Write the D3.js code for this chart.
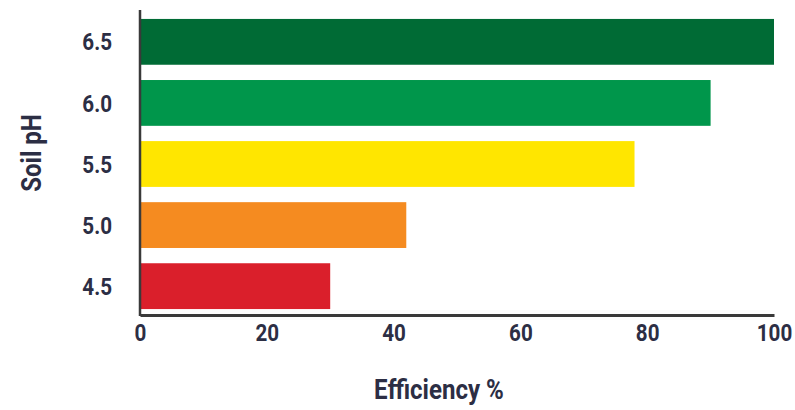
<!DOCTYPE html>
<html>
<head>
<meta charset="utf-8">
<script src="https://cdn.jsdelivr.net/npm/d3@7"></script>
<style>
  html, body { margin: 0; padding: 0; background: #fff; }
  svg text { font-family: Roboto, "Noto Sans", sans-serif; font-weight: bold; fill: #2c2e44; }
</style>
</head>
<body>
<svg id="chart" width="795" height="410"></svg>
<script>
// Soil pH classes, top to bottom
const categories = ["6.5", "6.0", "5.5", "5.0", "4.5"];
// Efficiency (%) per pH class
const values = [100, 90, 78, 42, 30];
const colors = ["#006b35", "#00964b", "#ffe600", "#f58b20", "#da1f2b"];
const xTicks = [0, 20, 40, 60, 80, 100];

const svg = d3.select("#chart");
const plot = { left: 140, right: 774, top: 10, bottom: 315 };
const narrow = 0.86;   // horizontal squeeze for a condensed look
const titleNarrow = 0.86;

const x = d3.scaleLinear().domain([0, 100]).range([plot.left, plot.right]);
const y = d3.scaleBand().domain(categories).range([plot.top + 1, plot.bottom + 2])
  .paddingInner(0.25).paddingOuter(0.13);

// bars
svg.append("g").selectAll("rect")
  .data(categories)
  .join("rect")
  .attr("x", x(0))
  .attr("y", d => y(d))
  .attr("width", (d, i) => x(values[i]) - x(0))
  .attr("height", y.bandwidth())
  .attr("fill", (d, i) => colors[i]);

// y axis line and category labels
svg.append("line")
  .attr("x1", plot.left).attr("x2", plot.left)
  .attr("y1", plot.top).attr("y2", plot.bottom + 1)
  .attr("stroke", "#3a3a3a").attr("stroke-width", 2.5);

svg.append("g").selectAll("g")
  .data(categories)
  .join("g")
  .attr("transform", d => `translate(112,${y(d) + y.bandwidth() / 2})`)
  .append("text")
  .attr("transform", `scale(${narrow},1)`)
  .attr("dy", "0.36em")
  .attr("text-anchor", "end")
  .attr("font-size", 24)
  .text(d => d);

// x axis
const xAxis = d3.axisBottom(x).tickValues(xTicks).tickSize(0).tickPadding(9)
  .tickFormat(d3.format("d"));
const gx = svg.append("g").attr("transform", `translate(0,${plot.bottom})`).call(xAxis);
gx.select(".domain").attr("stroke", "#3a3a3a").attr("stroke-width", 3);
gx.selectAll("text")
  .attr("font-size", 24).attr("font-family", null).attr("fill", null)
  .attr("transform", `scale(${narrow},1)`);

// axis titles
svg.append("text")
  .attr("transform", `translate(439,399) scale(${titleNarrow},1)`)
  .attr("text-anchor", "middle")
  .attr("font-size", 28)
  .text("Efficiency %");

svg.append("text")
  .attr("transform", `translate(41,153) rotate(-90) scale(${titleNarrow},1)`)
  .attr("text-anchor", "middle")
  .attr("font-size", 28)
  .text("Soil pH");
</script>
</body>
</html>
